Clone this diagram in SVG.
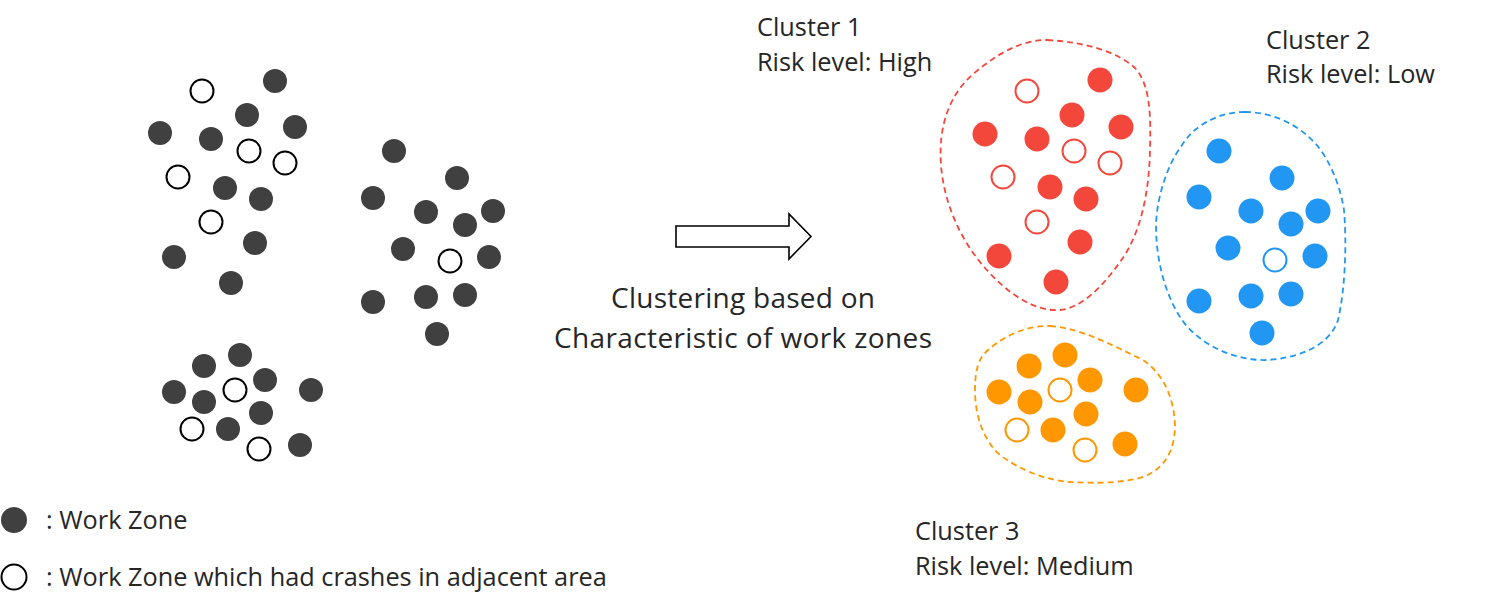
<svg xmlns="http://www.w3.org/2000/svg" width="1497" height="613" viewBox="0 0 1497 613">
<style>
text{font-family:"Open Sans","Liberation Sans",sans-serif;fill:#262626;font-size:25.3px}
.big{font-size:28px}
.d{fill:#404040}
.dh{fill:#fff;stroke:#000;stroke-width:2}
.r{fill:#F4473C}
.rh{fill:#fff;stroke:#F4473C;stroke-width:2}
.b{fill:#2196F3}
.bh{fill:#fff;stroke:#2196F3;stroke-width:2}
.o{fill:#FF9800}
.oh{fill:#fff;stroke:#FF9800;stroke-width:2}
.outline{fill:none;stroke-width:1.8;stroke-dasharray:6 4}
</style>
<rect width="1497" height="613" fill="#fff"/>
<g id="left-group-1">
<circle class="dh" cx="202" cy="91" r="11.5"/>
<circle class="d" cx="275" cy="81" r="12"/>
<circle class="d" cx="247" cy="115" r="12"/>
<circle class="d" cx="295" cy="127" r="12"/>
<circle class="d" cx="160" cy="133" r="12"/>
<circle class="d" cx="211" cy="139" r="12"/>
<circle class="dh" cx="249" cy="151" r="11.5"/>
<circle class="dh" cx="285" cy="163" r="11.5"/>
<circle class="dh" cx="178" cy="177" r="11.5"/>
<circle class="d" cx="225" cy="188" r="12"/>
<circle class="d" cx="261" cy="199" r="12"/>
<circle class="dh" cx="211" cy="222" r="11.5"/>
<circle class="d" cx="255" cy="243" r="12"/>
<circle class="d" cx="174" cy="257" r="12"/>
<circle class="d" cx="231" cy="283" r="12"/>
</g>
<g id="left-group-2">
<circle class="d" cx="394" cy="151" r="12"/>
<circle class="d" cx="457" cy="178" r="12"/>
<circle class="d" cx="373" cy="198" r="12"/>
<circle class="d" cx="426" cy="212" r="12"/>
<circle class="d" cx="493" cy="211" r="12"/>
<circle class="d" cx="465" cy="225" r="12"/>
<circle class="d" cx="403" cy="249" r="12"/>
<circle class="dh" cx="450" cy="261" r="11.5"/>
<circle class="d" cx="489" cy="257" r="12"/>
<circle class="d" cx="373" cy="302" r="12"/>
<circle class="d" cx="426" cy="297" r="12"/>
<circle class="d" cx="465" cy="295" r="12"/>
<circle class="d" cx="437" cy="334" r="12"/>
</g>
<g id="left-group-3">
<circle class="d" cx="240" cy="355" r="12"/>
<circle class="d" cx="204" cy="366" r="12"/>
<circle class="d" cx="265" cy="380" r="12"/>
<circle class="d" cx="174" cy="392" r="12"/>
<circle class="dh" cx="235" cy="390" r="11.5"/>
<circle class="d" cx="311" cy="390" r="12"/>
<circle class="d" cx="204" cy="402" r="12"/>
<circle class="d" cx="261" cy="413" r="12"/>
<circle class="dh" cx="192" cy="429" r="11.5"/>
<circle class="d" cx="228" cy="429" r="12"/>
<circle class="dh" cx="259" cy="449" r="11.5"/>
<circle class="d" cx="300" cy="445" r="12"/>
</g>
<g id="arrow">
<path d="M676,226 H789 V214 L811,236.5 L789,259 V247 H676 Z" fill="#fff" stroke="#000" stroke-width="1.6" stroke-linejoin="miter"/>
</g>
<g id="arrow-label">
<text class="big" x="743" y="308" text-anchor="middle" textLength="264">Clustering based on</text>
<text class="big" x="743" y="348" text-anchor="middle" textLength="378">Characteristic of work zones</text>
</g>
<g id="cluster-1">
<path class="outline" stroke="#F4473C" d="M1047,40 C1085,42 1118,52 1135,68 C1150,84 1151,115 1150,150 C1149,195 1140,235 1120,262 C1100,290 1080,308 1060,310 C1035,312 1008,294 985,268 C962,242 944,205 941,165 C938,125 950,95 972,75 C995,55 1020,40 1047,40 Z"/>
<circle class="rh" cx="1027" cy="91" r="11.5"/>
<circle class="r" cx="1100" cy="80" r="12.5"/>
<circle class="r" cx="1072" cy="115" r="12.5"/>
<circle class="r" cx="1121" cy="127" r="12.5"/>
<circle class="r" cx="985" cy="134" r="12.5"/>
<circle class="r" cx="1037" cy="139" r="12.5"/>
<circle class="rh" cx="1074" cy="151" r="11.5"/>
<circle class="rh" cx="1110" cy="163" r="11.5"/>
<circle class="rh" cx="1003" cy="177" r="11.5"/>
<circle class="r" cx="1050" cy="187" r="12.5"/>
<circle class="r" cx="1086" cy="199" r="12.5"/>
<circle class="rh" cx="1037" cy="222" r="11.5"/>
<circle class="r" cx="1080" cy="242" r="12.5"/>
<circle class="r" cx="999" cy="256" r="12.5"/>
<circle class="r" cx="1056" cy="282" r="12.5"/>
<text x="757" y="36">Cluster 1</text>
<text x="757" y="71">Risk level: High</text>
</g>
<g id="cluster-2">
<path class="outline" stroke="#2196F3" d="M1245,112 C1270,112 1295,122 1315,143 C1330,160 1340,185 1344,210 C1347,245 1345,290 1338,320 C1330,345 1300,358 1267,360 C1235,361 1200,345 1182,320 C1165,295 1156,260 1156,225 C1157,195 1168,165 1180,148 C1188,136 1192,132 1200,126 C1215,116 1230,112 1245,112 Z"/>
<circle class="b" cx="1219" cy="151" r="12.5"/>
<circle class="b" cx="1282" cy="178" r="12.5"/>
<circle class="b" cx="1199" cy="197" r="12.5"/>
<circle class="b" cx="1251" cy="211" r="12.5"/>
<circle class="b" cx="1318" cy="211" r="12.5"/>
<circle class="b" cx="1291" cy="224" r="12.5"/>
<circle class="b" cx="1228" cy="248" r="12.5"/>
<circle class="bh" cx="1275" cy="260" r="11.5"/>
<circle class="b" cx="1315" cy="256" r="12.5"/>
<circle class="b" cx="1199" cy="301" r="12.5"/>
<circle class="b" cx="1251" cy="296" r="12.5"/>
<circle class="b" cx="1291" cy="294" r="12.5"/>
<circle class="b" cx="1262" cy="333" r="12.5"/>
<text x="1266" y="49">Cluster 2</text>
<text x="1266" y="83">Risk level: Low</text>
</g>
<g id="cluster-3">
<path class="outline" stroke="#FF9800" d="M1050,326 C1080,328 1110,344 1143,360 C1165,375 1174,400 1175,425 C1175,450 1165,470 1140,478 C1115,484 1090,483 1070,482 C1045,480 1020,470 1000,455 C983,440 975,415 975,390 C975,372 978,360 985,353 C1000,338 1025,325 1050,326 Z"/>
<circle class="o" cx="1065" cy="355" r="12.5"/>
<circle class="o" cx="1029" cy="366" r="12.5"/>
<circle class="o" cx="1090" cy="380" r="12.5"/>
<circle class="o" cx="999" cy="392" r="12.5"/>
<circle class="oh" cx="1060" cy="390" r="11.5"/>
<circle class="o" cx="1136" cy="390" r="12.5"/>
<circle class="o" cx="1030" cy="402" r="12.5"/>
<circle class="o" cx="1086" cy="414" r="12.5"/>
<circle class="oh" cx="1017" cy="430" r="11.5"/>
<circle class="o" cx="1053" cy="430" r="12.5"/>
<circle class="oh" cx="1085" cy="450" r="11.5"/>
<circle class="o" cx="1125" cy="444" r="12.5"/>
<text x="915" y="540">Cluster 3</text>
<text x="915" y="575">Risk level: Medium</text>
</g>
<g id="legend">
<circle class="d" cx="14" cy="520" r="13"/>
<text x="46" y="529">: Work Zone</text>
<circle class="dh" cx="14" cy="577" r="12.5"/>
<text x="46" y="586">: Work Zone which had crashes in adjacent area</text>
</g>
</svg>
